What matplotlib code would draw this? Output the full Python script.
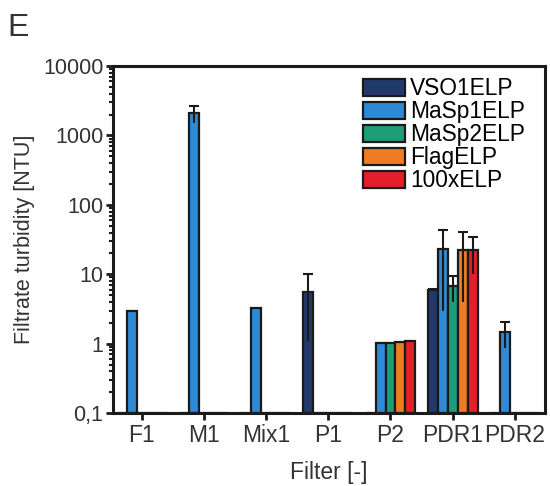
import numpy as np
import matplotlib
matplotlib.use('Agg')
import matplotlib.pyplot as plt
from matplotlib.ticker import FixedLocator, FixedFormatter, LogLocator, NullFormatter

plt.rcParams['font.family'] = ['Liberation Sans', 'DejaVu Sans']

filters = ['F1', 'M1', 'Mix1', 'P1', 'P2', 'PDR1', 'PDR2']
series = ['VSO1ELP', 'MaSp1ELP', 'MaSp2ELP', 'FlagELP', '100xELP']
colors = ['#223a6b', '#2e8ad4', '#1e9e78', '#f07b22', '#e41f2a']
nan = np.nan

vso1 = [nan, nan, nan, 5.6, nan, 6.0, nan]
masp1 = [3.0, 2100, 3.3, nan, 1.02, 23.5, 1.47]
masp2 = [nan, nan, nan, nan, 1.02, 6.7, nan]
flag = [nan, nan, nan, nan, 1.06, 22.5, nan]
elp100 = [nan, nan, nan, nan, 1.08, 22.5, nan]

vso1_err = [nan, nan, nan, 4.5, nan, 0.2, nan]
masp1_err = [nan, 600, nan, nan, nan, 20.5, 0.6]
masp2_err = [nan, nan, nan, nan, nan, 2.7, nan]
flag_err = [nan, nan, nan, nan, nan, 18.5, nan]
elp100_err = [nan, nan, nan, nan, nan, 12.5, nan]

values = [vso1, masp1, masp2, flag, elp100]
errors = [vso1_err, masp1_err, masp2_err, flag_err, elp100_err]

YMIN = 0.1


def main():
    fig = plt.figure(figsize=(5.5, 4.86), dpi=100)
    ax = fig.add_axes([0.2055, 0.150, 0.785, 0.714])

    x = np.arange(len(filters))
    w = 0.16
    for i, (name, vals, errs, c) in enumerate(zip(series, values, errors, colors)):
        pos = x + (i - 2) * w
        vals = np.array(vals, dtype=float)
        errs = np.array(errs, dtype=float)
        ax.bar(pos, np.nan_to_num(vals - YMIN, nan=0.0), width=w, bottom=YMIN, color=c,
               edgecolor='#1a1a1a', linewidth=1.6, label=name, zorder=2)
        m = ~np.isnan(errs)
        if m.any():
            _, caps, _ = ax.errorbar(pos[m], vals[m], yerr=errs[m], fmt='none',
                                     ecolor='#1a1a1a', elinewidth=1.5, capsize=3.6,
                                     capthick=1.5, zorder=3)
            caps[0].set_visible(False)

    ax.set_yscale('log')
    ax.set_ylim(YMIN, 10000)
    ax.set_xlim(-0.46, 6.48)
    ax.yaxis.set_major_locator(FixedLocator([0.1, 1, 10, 100, 1000, 10000]))
    ax.yaxis.set_major_formatter(FixedFormatter(['0,1', '1', '10', '100', '1000', '10000']))
    ax.yaxis.set_minor_locator(LogLocator(base=10, subs=np.arange(2, 10)))
    ax.yaxis.set_minor_formatter(NullFormatter())

    ax.set_xticks(x)
    ax.set_xticklabels(filters)

    for s in ax.spines.values():
        s.set_linewidth(2.2)
        s.set_color('#1a1a1a')
    ax.tick_params(axis='both', which='major', length=5, width=2, color='#1a1a1a',
                   labelcolor='#333333', pad=2)
    ax.tick_params(axis='x', labelsize=16.5, pad=3)
    ax.tick_params(axis='y', labelsize=15.5)
    ax.tick_params(axis='y', which='minor', length=3, width=1.5, color='#1a1a1a')

    ax.set_xlabel('Filter [-]', fontsize=16.5, color='#333333', labelpad=10)
    ax.set_ylabel('Filtrate turbidity [NTU]', fontsize=15.5, color='#333333', labelpad=6)

    ax.legend(loc='upper left', bbox_to_anchor=(0.579, 0.968), frameon=False,
              fontsize=16.4, handlelength=1.85, handleheight=0.8, labelspacing=0.0,
              handletextpad=0.22, borderaxespad=0, borderpad=0)

    fig.text(0.013, 0.925, 'E', fontsize=23, color='#333333')

    fig.savefig('out.png', dpi=100)


if __name__ == "__main__":
    main()
